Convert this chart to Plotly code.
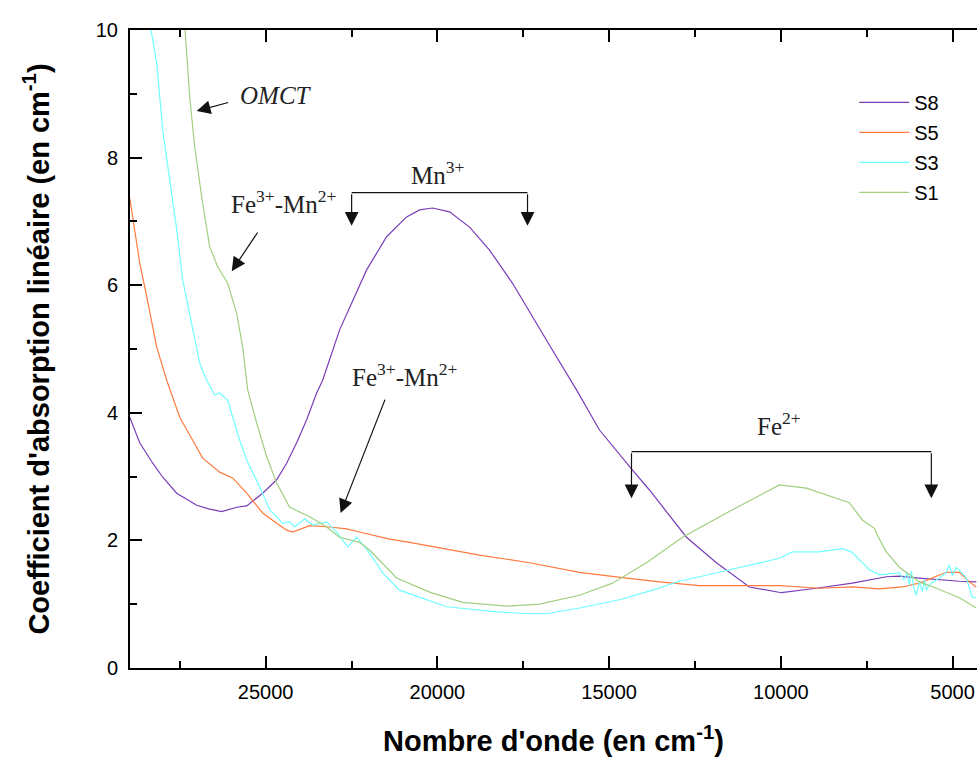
"""
Spectres d'absorption optique des échantillons S1, S3, S5, S8.
"""

import plotly.graph_objects as go

# Theme
THEME = {
    "S8": "#7a3db8",
    "S5": "#ff7a3d",
    "S3": "#70ffff",
    "S1": "#a0cf80",
    "text": "#000000",
    "annot": "#222222",
}

# --- Data (nombre d'onde en cm-1, coefficient en cm-1) ---
S8_X = [28958, 28667, 28288, 27997, 27590, 27008, 26630, 26280, 25844, 25553,
        25087, 24680, 24389, 24098, 23807, 23516, 23341, 22847, 22061, 21479,
        20897, 20519, 20140, 19646, 19064, 18482, 17812, 17230, 16648, 15950,
        15281, 14320, 13826, 12749, 11876, 10916, 9984, 8966, 7918, 6929,
        6551, 5969, 5387, 4805, 4310]
S8_Y = [3.93, 3.53, 3.21, 2.99, 2.74, 2.55, 2.49, 2.45, 2.52, 2.54,
        2.74, 2.95, 3.21, 3.53, 3.89, 4.31, 4.51, 5.30, 6.24, 6.76,
        7.07, 7.18, 7.21, 7.15, 6.91, 6.55, 6.03, 5.50, 4.98, 4.36,
        3.73, 3.10, 2.79, 2.05, 1.65, 1.27, 1.18, 1.25, 1.33, 1.43,
        1.44, 1.41, 1.38, 1.36, 1.35]

S5_X = [28958, 28667, 28463, 28172, 27881, 27503, 27124, 26833, 26339, 25960,
        25553, 25087, 24680, 24389, 24214, 23720, 23138, 22643, 22177, 21392,
        20810, 20228, 18773, 17318, 15863, 14495, 13535, 12371, 10043, 8879,
        7918, 7133, 6463, 5969, 5474, 5183, 4805, 4514, 4310]
S5_Y = [7.37, 6.35, 5.82, 5.03, 4.51, 3.93, 3.57, 3.29, 3.07, 2.98,
        2.74, 2.43, 2.27, 2.16, 2.13, 2.23, 2.21, 2.18, 2.12, 2.02,
        1.97, 1.91, 1.77, 1.65, 1.50, 1.41, 1.35, 1.29, 1.29, 1.25,
        1.27, 1.24, 1.27, 1.33, 1.43, 1.50, 1.50, 1.35, 1.27]

S3_X = [28434, 28172, 27997, 27794, 27590, 27415, 27124, 26921, 26717, 26484,
        26339, 26106, 25757, 25553, 25175, 24884, 24505, 24302, 24156, 23865,
        23632, 23225, 22934, 22614, 22352, 21974, 21595, 21101, 19733, 18278,
        17318, 16823, 15863, 14699, 13738, 12953, 12371, 10043, 9664, 8879,
        8210, 7947, 7424, 7133, 6551, 6420, 6318, 6260, 6201, 6130,
        6056, 5970, 5881, 5820, 5765, 5678, 5530, 5387, 5183, 5096,
        5008, 4892, 4746, 4601, 4427, 4310]
S3_Y = [10.3, 9.48, 8.43, 7.65, 6.87, 6.08, 5.30, 4.78, 4.51, 4.28,
        4.31, 4.20, 3.57, 3.26, 2.84, 2.48, 2.27, 2.29, 2.21, 2.34,
        2.24, 2.29, 2.13, 1.90, 2.05, 1.80, 1.49, 1.22, 0.96, 0.88,
        0.85, 0.85, 0.94, 1.07, 1.22, 1.36, 1.43, 1.72, 1.82, 1.82,
        1.87, 1.82, 1.54, 1.46, 1.49, 1.38, 1.50, 1.30, 1.52, 1.25,
        1.14, 1.35, 1.20, 1.38, 1.22, 1.30, 1.36, 1.41, 1.50, 1.62,
        1.45, 1.58, 1.50, 1.41, 1.11, 1.10]

S1_X = [27386, 27212, 27066, 26862, 26630, 26397, 26106, 25844, 25669, 25524,
        25262, 24971, 24680, 24302, 23720, 23225, 22847, 22265, 21974, 21479,
        21188, 20228, 19267, 17987, 17027, 15863, 14902, 13913, 12865, 11410,
        10043, 9257, 8006, 7627, 7278, 7191, 6929, 6551, 5969, 5474,
        4805, 4310]
S1_Y = [10.3, 8.95, 8.17, 7.38, 6.60, 6.29, 6.03, 5.56, 5.03, 4.36,
        3.84, 3.31, 2.90, 2.52, 2.37, 2.21, 2.05, 1.97, 1.85, 1.57,
        1.41, 1.19, 1.03, 0.97, 1.00, 1.14, 1.33, 1.65, 2.05, 2.48,
        2.87, 2.82, 2.59, 2.32, 2.19, 2.08, 1.82, 1.58, 1.35, 1.25,
        1.10, 0.94]

SERIES = [("S8", S8_X, S8_Y), ("S5", S5_X, S5_Y), ("S3", S3_X, S3_Y), ("S1", S1_X, S1_Y)]

X_RANGE = [28950, 4290]
Y_RANGE = [0, 10]
X_TICKS = [25000, 20000, 15000, 10000, 5000]
Y_TICKS = [0, 2, 4, 6, 8, 10]

SERIF = "Liberation Serif, Times New Roman, serif"
SANS = "Liberation Sans, Arial, sans-serif"


def _label(fig, text, x, y, size=25, italic=False):
    if italic:
        text = f"<i>{text}</i>"
    fig.add_annotation(x=x, y=y, xref="x", yref="y", text=text, showarrow=False,
                       font=dict(family=SERIF, size=size, color=THEME["annot"]))


def _arrow(fig, x0, y0, x1, y1):
    """Arrow from (x0, y0) to head at (x1, y1), data coordinates."""
    fig.add_annotation(x=x1, y=y1, ax=x0, ay=y0, xref="x", yref="y",
                       axref="x", ayref="y", text="", showarrow=True,
                       arrowhead=2, arrowsize=2.3, arrowwidth=1.2,
                       arrowcolor="#111111", standoff=0)


def _bracket(fig, x_left, x_right, y_top, y_tip):
    fig.add_shape(type="line", xref="x", yref="y", x0=x_left, x1=x_right,
                  y0=y_top, y1=y_top, line=dict(color="#111111", width=1.2))
    _arrow(fig, x_left, y_top, x_left, y_tip)
    _arrow(fig, x_right, y_top, x_right, y_tip)


fig = go.Figure()

for name, xs, ys in SERIES:
    fig.add_trace(go.Scatter(
        x=xs, y=ys, mode="lines", name=name, legendgroup=name,
        line=dict(color=THEME[name], width=1.2)
    ))

# Annotations
_label(fig, "OMCT", 24700, 8.98, italic=True)
_arrow(fig, 26048, 8.87, 27008, 8.73)

_label(fig, "Fe<sup>3+</sup>-Mn<sup>2+</sup>", 24476, 7.30)
_arrow(fig, 25204, 6.85, 25989, 6.22)

_label(fig, "Mn<sup>3+</sup>", 19995, 7.76)
_bracket(fig, 22497, 17376, 7.45, 6.93)

_label(fig, "Fe<sup>3+</sup>-Mn<sup>2+</sup>", 20955, 4.60)
_arrow(fig, 21508, 4.23, 22818, 2.43)

_label(fig, "Fe<sup>2+</sup>", 10043, 3.82)
_bracket(fig, 14349, 5619, 3.39, 2.66)

axis_common = dict(
    showline=True, linecolor="black", linewidth=2,
    ticks="inside", tickcolor="black", tickwidth=2, ticklen=12,
    showgrid=False, zeroline=False, automargin=False,
    tickfont=dict(family=SANS, size=20, color=THEME["text"]),
)

fig.update_layout(
    width=977, height=760,
    paper_bgcolor="white", plot_bgcolor="white",
    margin=dict(l=130, r=0, t=30, b=92),
    showlegend=True,
    legend=dict(
        x=0.855, y=0.917, xanchor="left", yanchor="top",
        bgcolor="rgba(0,0,0,0)", borderwidth=0,
        font=dict(family=SANS, size=20, color=THEME["text"]),
        tracegroupgap=1, itemwidth=50,
    ),
    xaxis=dict(
        **axis_common,
        range=X_RANGE, autorange=False,
        tickvals=X_TICKS, tickformat="d", mirror="allticks",
        minor=dict(dtick=2500, ticks="inside", ticklen=7, tickcolor="black", tickwidth=2),
        ticklabelstandoff=5,
        title=dict(text="<b>Nombre d'onde (en cm<sup>-1</sup>)</b>", standoff=29,
                   font=dict(family=SANS, size=29, color=THEME["text"])),
    ),
    yaxis=dict(
        **axis_common,
        range=Y_RANGE, autorange=False,
        tickvals=Y_TICKS, mirror=False,
        minor=dict(dtick=1, ticks="inside", ticklen=7, tickcolor="black", tickwidth=2),
        ticklabelstandoff=6,
        title=dict(text="<b>Coefficient d'absorption linéaire (en cm<sup>-1</sup>)</b>",
                   standoff=38,
                   font=dict(family=SANS, size=29, color=THEME["text"])),
    ),
)

# drop the default page margin so the figure fills the window exactly
fig.write_html("out.html",
               config={"displayModeBar": False},
               post_script="document.body.style.margin='0';document.body.style.overflow='hidden';")
